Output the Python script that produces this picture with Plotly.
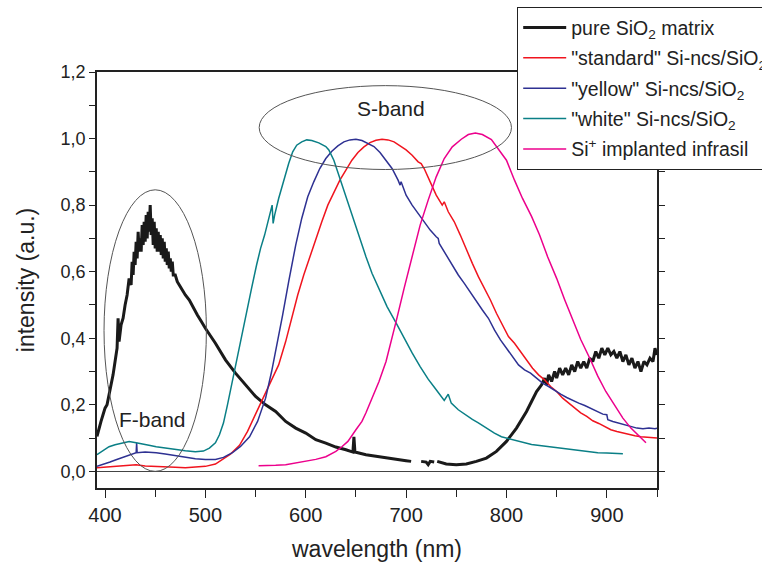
import plotly.graph_objects as go

# ---- photoluminescence spectra (wavelength in nm, normalised intensity) ----
pure_x = [392, 394, 396, 398, 400, 402, 404, 406, 408, 410, 412, 413, 414, 416, 418, 420,
          422, 424, 426, 427, 428, 429, 430, 431, 432, 433, 434, 435, 436, 437, 438, 439,
          440, 441, 442, 443, 444, 445, 446, 447, 448, 449, 450, 451, 452, 453, 454, 455,
          456, 457, 458, 459, 460, 461, 462, 463, 464, 465, 466, 467, 468, 470, 472, 474,
          476, 478, 480, 484, 488, 492, 496, 500, 510, 520, 530, 540, 550, 560, 570, 580,
          590, 600, 610, 620, 630, 640, 647, 648, 649, 660, 670, 680, 690, 700, 705, 710,
          715, 720, 722, 724, 728, 730, 731, 740, 750, 760, 770, 780, 790, 800, 810, 815,
          820, 825, 830, 835, 838, 840, 842, 845, 848, 850, 853, 856, 859, 862, 865, 868,
          871, 874, 877, 880, 883, 886, 889, 892, 895, 898, 901, 904, 907, 910, 913, 916,
          919, 922, 925, 928, 931, 934, 937, 940, 943, 946, 948, 950]
pure_y = [0.105, 0.13, 0.15, 0.17, 0.19, 0.20, 0.23, 0.25, 0.29, 0.33, 0.37, 0.46, 0.39, 0.44, 0.46, 0.50,
          0.53, 0.58, 0.56, 0.63, 0.59, 0.66, 0.62, 0.69, 0.64, 0.72, 0.66, 0.70, 0.66, 0.74, 0.68, 0.75,
          0.69, 0.77, 0.70, 0.78, 0.72, 0.80, 0.71, 0.76, 0.68, 0.75, 0.67, 0.73, 0.66, 0.72, 0.66, 0.71,
          0.65, 0.70, 0.64, 0.69, 0.63, 0.67, 0.62, 0.66, 0.61, 0.64, 0.60, 0.63, 0.59, 0.59, 0.57, 0.56,
          0.55, 0.54, 0.53, 0.515, 0.49, 0.47, 0.45, 0.43, 0.385, 0.335, 0.295, 0.26, 0.225, 0.20, 0.18, 0.15,
          0.13, 0.115, 0.095, 0.085, 0.073, 0.065, 0.058, 0.104, 0.058, 0.05, 0.045, 0.04, 0.036, 0.032, 0.03, None,
          0.03, 0.028, 0.02, 0.03, 0.028, None, 0.03, 0.022, 0.02, 0.022, 0.03, 0.04, 0.06, 0.09, 0.13, 0.155,
          0.18, 0.21, 0.24, 0.26, 0.28, 0.26, 0.29, 0.27, 0.30, 0.28, 0.31, 0.29, 0.31, 0.29, 0.32, 0.30,
          0.33, 0.31, 0.33, 0.31, 0.34, 0.33, 0.36, 0.34, 0.37, 0.35, 0.37, 0.35, 0.36, 0.34, 0.36, 0.33,
          0.35, 0.32, 0.34, 0.31, 0.33, 0.30, 0.33, 0.32, 0.34, 0.33, 0.37, 0.35]

standard_x = [392, 400, 410, 420, 431, 440, 450, 460, 470, 480, 490, 500, 510, 517, 525, 534,
              542, 550, 556, 561, 567, 573, 580, 586, 592, 598, 604, 610, 616, 622, 628, 634,
              640, 646, 652, 658, 664, 670, 676, 682, 688, 694, 700, 706, 712, 715, 718, 724,
              730, 736, 738, 742, 748, 754, 760, 766, 772, 778, 784, 790, 796, 802, 808, 814,
              820, 826, 832, 838, 844, 850, 856, 862, 868, 874, 880, 886, 892, 898, 904, 910,
              916, 922, 928, 934, 940, 946, 950]
standard_y = [0.011, 0.013, 0.015, 0.017, 0.02, 0.016, 0.014, 0.013, 0.012, 0.011, 0.012, 0.015, 0.022, 0.035, 0.052, 0.078,
              0.12, 0.172, 0.21, 0.24, 0.28, 0.32, 0.39, 0.46, 0.53, 0.59, 0.645, 0.70, 0.75, 0.80, 0.84, 0.875,
              0.905, 0.935, 0.958, 0.975, 0.988, 0.995, 0.998, 0.996, 0.99, 0.978, 0.966, 0.95, 0.93, 0.925, 0.91, 0.87,
              0.83, 0.80, 0.81, 0.78, 0.75, 0.71, 0.665, 0.625, 0.585, 0.55, 0.515, 0.475, 0.44, 0.405, 0.385, 0.36,
              0.335, 0.31, 0.29, 0.275, 0.255, 0.24, 0.22, 0.205, 0.19, 0.176, 0.165, 0.152, 0.144, 0.135, 0.125, 0.12,
              0.115, 0.11, 0.107, 0.104, 0.102, 0.10, 0.10]

yellow_x = [392, 400, 405, 411, 420, 428, 431, 431.5, 432, 440, 451, 460, 470, 480, 490, 500,
            510, 518, 527, 535, 544, 552, 560, 566, 572, 577, 583, 590, 596, 602, 608, 614,
            620, 626, 632, 638, 644, 650, 656, 662, 668, 674, 680, 686, 692, 694, 695, 700,
            706, 712, 718, 724, 730, 732, 733, 740, 746, 752, 758, 764, 770, 776, 782, 788,
            794, 800, 806, 812, 818, 824, 830, 836, 842, 848, 854, 860, 866, 872, 878, 884,
            890, 896, 900, 901, 906, 912, 918, 924, 930, 936, 942, 948, 950]
yellow_y = [0.015, 0.022, 0.028, 0.035, 0.045, 0.052, 0.056, 0.086, 0.056, 0.058, 0.056, 0.052, 0.047, 0.042, 0.038, 0.036,
            0.036, 0.042, 0.056, 0.075, 0.104, 0.15, 0.22, 0.30, 0.39, 0.47, 0.57, 0.68, 0.76, 0.825, 0.87, 0.91,
            0.94, 0.962, 0.978, 0.99, 0.996, 0.998, 0.994, 0.986, 0.976, 0.958, 0.935, 0.91, 0.875, 0.86, 0.87, 0.83,
            0.80, 0.775, 0.75, 0.725, 0.705, 0.70, 0.685, 0.65, 0.62, 0.59, 0.565, 0.537, 0.51, 0.485, 0.46, 0.425,
            0.395, 0.37, 0.345, 0.32, 0.305, 0.295, 0.28, 0.265, 0.255, 0.243, 0.232, 0.222, 0.213, 0.205, 0.198, 0.19,
            0.18, 0.172, 0.17, 0.155, 0.15, 0.145, 0.14, 0.135, 0.13, 0.128, 0.13, 0.128, 0.13]

white_x = [392, 398, 404, 410, 417, 424, 431, 438, 445, 451, 460, 470, 480, 490, 498, 504,
           510, 514, 518, 522, 527, 532, 536, 541, 546, 551, 555, 559, 563, 565, 566.5, 567.5,
           569, 573, 578, 583, 587, 591, 596, 601, 606, 613, 620, 623, 628, 633, 639, 646,
           653, 660, 666, 673, 681, 690, 698, 706, 714, 722, 730, 738, 742, 745, 752, 760,
           766, 772, 780, 788, 795, 805, 815, 825, 835, 845, 858, 870, 880, 891, 900, 908, 916]
white_y = [0.05, 0.062, 0.074, 0.08, 0.086, 0.09, 0.086, 0.083, 0.078, 0.074, 0.07, 0.066, 0.062, 0.059, 0.061, 0.07,
           0.086, 0.11, 0.145, 0.20, 0.275, 0.35, 0.41, 0.476, 0.55, 0.62, 0.67, 0.71, 0.756, 0.78, 0.80, 0.745,
           0.77, 0.82, 0.875, 0.925, 0.96, 0.98, 0.99, 0.996, 0.994, 0.987, 0.976, 0.966, 0.935, 0.89, 0.83, 0.766,
           0.705, 0.645, 0.595, 0.546, 0.495, 0.446, 0.40, 0.356, 0.315, 0.277, 0.245, 0.213, 0.232, 0.205, 0.185, 0.168,
           0.156, 0.146, 0.13, 0.115, 0.104, 0.096, 0.088, 0.081, 0.077, 0.073, 0.07, 0.064, 0.06, 0.056, 0.055, 0.053, 0.053]

infrasil_x = [553, 560, 570, 580, 590, 600, 610, 620, 630, 636, 642, 650, 656, 660, 666, 673,
              680, 686, 690, 698, 706, 714, 722, 730, 738, 746, 755, 762, 769, 776, 785, 792,
              800, 808, 816, 825, 833, 841, 850, 858, 866, 874, 883, 891, 899, 908, 916, 924,
              932, 939]
infrasil_y = [0.017, 0.017, 0.018, 0.02, 0.025, 0.03, 0.036, 0.044, 0.06, 0.074, 0.09, 0.125, 0.15, 0.176, 0.22, 0.27,
              0.33, 0.40, 0.45, 0.55, 0.645, 0.74, 0.815, 0.885, 0.94, 0.975, 0.998, 1.012, 1.017, 1.012, 0.997, 0.968,
              0.935, 0.875, 0.82, 0.766, 0.71, 0.645, 0.58, 0.516, 0.455, 0.396, 0.34, 0.286, 0.24, 0.196, 0.16, 0.13,
              0.105, 0.086]

y_ticks = [0.0, 0.2, 0.4, 0.6, 0.8, 1.0, 1.2]
y_tick_text = ["0,0", "0,2", "0,4", "0,6", "0,8", "1,0", "1,2"]

FONT = "Liberation Sans, Arial, sans-serif"
INK = "#222222"

series = [
    ("pure SiO<sub>2</sub> matrix", pure_x, pure_y, "#1a1a1a", 3),
    ('"standard" Si-ncs/SiO<sub>2</sub>', standard_x, standard_y, "#f0141e", 1.5),
    ('"yellow" Si-ncs/SiO<sub>2</sub>', yellow_x, yellow_y, "#2e3192", 1.5),
    ('"white" Si-ncs/SiO<sub>2</sub>', white_x, white_y, "#0a7f86", 1.5),
    ("Si<sup>+</sup> implanted infrasil", infrasil_x, infrasil_y, "#ec008c", 1.5),
]

fig = go.Figure()
for i, (name, xs, ys, color, width) in enumerate(series):
    fig.add_trace(go.Scatter(
        x=xs, y=ys, name=name, mode="lines", legendgroup=f"g{i}",
        line=dict(color=color, width=width), connectgaps=False,
    ))

# band markers
fig.add_shape(type="circle", xref="x", yref="y", x0=399, x1=501, y0=0.0, y1=0.846,
              line=dict(color="#555555", width=1), layer="above")
fig.add_shape(type="circle", xref="x", yref="y", x0=553.6, x1=805, y0=0.907, y1=1.159,
              line=dict(color="#555555", width=1), layer="above")
fig.add_annotation(x=447, y=0.155, xref="x", yref="y", text="F-band", showarrow=False,
                   font=dict(family=FONT, size=21, color=INK))
fig.add_annotation(x=685, y=1.09, xref="x", yref="y", text="S-band", showarrow=False,
                   font=dict(family=FONT, size=21, color=INK))

fig.update_layout(
    width=762, height=569,
    margin=dict(l=97, r=105, t=72, b=81, autoexpand=False),
    paper_bgcolor="white", plot_bgcolor="white",
    font=dict(family=FONT, color=INK),
    showlegend=True,
    legend=dict(
        x=0.75, y=1.156, xanchor="left", yanchor="top",
        bgcolor="white", bordercolor=INK, borderwidth=1.2,
        font=dict(family=FONT, size=19.5, color=INK),
        itemwidth=43, traceorder="grouped", tracegroupgap=2,
    ),
    xaxis=dict(
        range=[392, 950], tick0=400, dtick=100,
        ticks="outside", ticklen=8, tickwidth=1.2, tickcolor=INK,
        minor=dict(ticks="outside", tick0=400, dtick=50, ticklen=7, tickwidth=1.2, tickcolor=INK),
        showline=True, linecolor=INK, linewidth=1.5, mirror=True,
        showgrid=False, zeroline=False,
        tickfont=dict(family=FONT, size=20, color=INK),
        title=dict(text="wavelength (nm)", font=dict(family=FONT, size=23, color=INK), standoff=16),
    ),
    yaxis=dict(
        range=[-0.05, 1.2], tickmode="array", tickvals=y_ticks, ticktext=y_tick_text,
        ticks="outside", ticklen=6, tickwidth=1.2, tickcolor=INK,
        minor=dict(ticks="outside", tickvals=[0.1, 0.3, 0.5, 0.7, 0.9, 1.1],
                   ticklen=6, tickwidth=1.2, tickcolor=INK),
        showline=True, linecolor=INK, linewidth=1.5, mirror="ticks",
        showgrid=False, zeroline=True, zerolinecolor="#444444", zerolinewidth=1,
        tickfont=dict(family=FONT, size=18, color=INK),
        title=dict(text="intensity (a.u.)", font=dict(family=FONT, size=23, color=INK), standoff=20),
    ),
)

fig.write_html("out.html")
